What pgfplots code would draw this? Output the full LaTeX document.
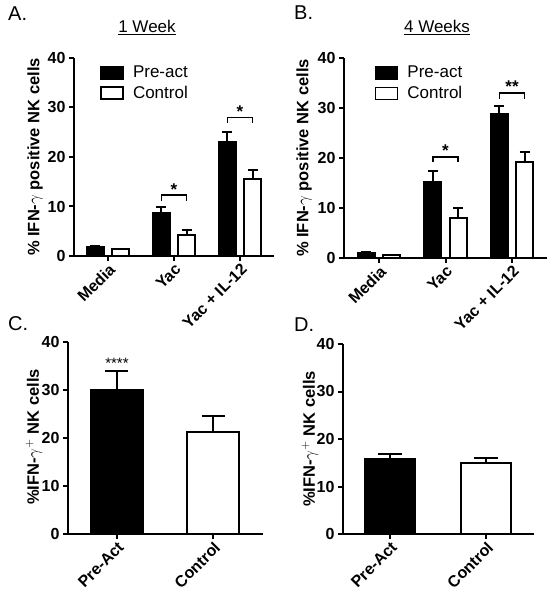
\documentclass[border=0pt]{standalone}
\usepackage{fontspec}
\setmainfont{Liberation Sans}
\usepackage{pgfplots}
\usepackage{pgfplotstable}
\pgfplotsset{compat=1.18}

\pgfplotstableread{
x y e
-0.19 1.8 0.15
0.81 8.7 1.1
1.81 23.0 2.1
}\Apre
\pgfplotstableread{
x y e
0.19 1.4 0.1
1.19 4.2 1.0
2.19 15.6 1.8
}\Actl
\pgfplotstableread{
x y e
-0.19 1.0 0.1
0.81 15.2 2.2
1.81 28.8 1.6
}\Bpre
\pgfplotstableread{
x y e
0.19 0.5 0.1
1.19 8.0 2.0
2.19 19.2 2.0
}\Bctl
\pgfplotstableread{
x y e
0 29.9 4.1
}\Cpre
\pgfplotstableread{
x y e
1 21.2 3.4
}\Cctl
\pgfplotstableread{
x y e
0 15.7 1.2
}\Dpre
\pgfplotstableread{
x y e
1 14.9 1.2
}\Dctl

\pgfplotsset{
  panel/.style={
    scale only axis, clip=false,
    axis lines=left,
    axis line style={-, line width=2pt},
    every tick/.style={black, line width=2pt},
    tick align=outside, major tick length=5pt,
    ymin=0, ymax=40, ytick={0,10,20,30,40},
    /pgf/number format/assume math mode=true,
    ticklabel style={font=\fontsize{16}{18}\selectfont\bfseries},
    xticklabel style={rotate=45, anchor=north east, inner sep=1pt},
    ylabel style={font=\fontsize{16.5}{19}\selectfont\bfseries, anchor=center},
    legend style={draw=none, fill=none, anchor=north west,
      font=\fontsize{17}{19}\selectfont, row sep=5pt, inner sep=0pt,
      nodes={inner sep=1pt}},
    legend cell align=left,
    legend image code/.code={\draw[#1, line width=1.6pt] (0pt,-6pt) rectangle (22pt,6pt); \path[draw=none,fill=none] (0pt,0pt) -- (31pt,0pt);},
  },
  bars/.style={ybar, bar shift=0pt, draw=black, line width=2pt,
    error bars/.cd, y dir=plus, y explicit,
    error bar style={line width=2pt, black},
    error mark options={rotate=90, line width=2pt, mark size=#1, black}},
}

\begin{document}
\begin{tikzpicture}
\path[use as bounding box] (0pt,0pt) rectangle (552pt,600pt);

% Panel A
\begin{axis}[panel, at={(74pt,344pt)}, anchor=south west, width=200pt, height=198pt,
  xmin=-0.515, xmax=2.515, xtick={0,1,2}, xticklabels={Media,Yac,Yac + IL-12},
  ylabel={\% IFN-$\gamma$ positive NK cells},
  ylabel style={at={(axis description cs:-0.195,0.5)}},
  legend style={at={(0.13,0.965)}}]
\addplot[fill=black, bar width=0.26, bars=5pt] table[x=x, y=y, y error=e] {\Apre};
\addlegendentry{Pre-act}
\addplot[fill=white, bar width=0.26, bars=5pt] table[x=x, y=y, y error=e] {\Actl};
\addlegendentry{Control}
\draw[line width=1.5pt] (axis cs:0.81,11.1) -- (axis cs:0.81,12.3) -- (axis cs:1.19,12.3) -- (axis cs:1.19,11.1);
\node[anchor=base, inner sep=0pt, font=\fontsize{17}{18}\selectfont\bfseries] at (axis cs:1,12.3) {*};
\draw[line width=1.5pt] (axis cs:1.81,26.9) -- (axis cs:1.81,28.0) -- (axis cs:2.19,28.0) -- (axis cs:2.19,26.9);
\node[anchor=base, inner sep=0pt, font=\fontsize{17}{18}\selectfont\bfseries] at (axis cs:2,28.0) {*};
\end{axis}

% Panel B
\begin{axis}[panel, at={(344pt,342pt)}, anchor=south west, width=203pt, height=200pt,
  xmin=-0.526, xmax=2.526, xtick={0,1,2}, xticklabels={Media,Yac,Yac + IL-12},
  ylabel={\% IFN-$\gamma$ positive NK cells},
  ylabel style={at={(axis description cs:-0.197,0.5)}},
  legend style={at={(0.15,0.965)}}]
\addplot[fill=black, bar width=0.256, bars=5pt] table[x=x, y=y, y error=e] {\Bpre};
\addlegendentry{Pre-act}
\addplot[fill=white, bar width=0.256, bars=5pt] table[x=x, y=y, y error=e] {\Bctl};
\addlegendentry{Control}
\draw[line width=1.5pt] (axis cs:0.81,19.2) -- (axis cs:0.81,20.2) -- (axis cs:1.19,20.2) -- (axis cs:1.19,19.2);
\node[anchor=base, inner sep=0pt, font=\fontsize{17}{18}\selectfont\bfseries] at (axis cs:1,20.2) {*};
\draw[line width=1.5pt] (axis cs:1.81,31.8) -- (axis cs:1.81,33.0) -- (axis cs:2.19,33.0) -- (axis cs:2.19,31.8);
\node[anchor=base, inner sep=0pt, font=\fontsize{17}{18}\selectfont\bfseries] at (axis cs:2,33.0) {**};
\end{axis}

% Panel C
\begin{axis}[panel, at={(68pt,66pt)}, anchor=south west, width=195pt, height=192pt,
  xmin=-0.51, xmax=1.52, xtick={0,1}, xticklabels={Pre-Act,Control},
  ylabel={\%IFN-$\gamma^{+}$ NK cells},
  ylabel style={at={(axis description cs:-0.174,0.505)}}]
\addplot[fill=black, bar width=0.54, bars=11.5pt] table[x=x, y=y, y error=e] {\Cpre};
\addplot[fill=white, bar width=0.54, bars=11.5pt] table[x=x, y=y, y error=e] {\Cctl};
\node[anchor=base, inner sep=0pt, font=\fontsize{15}{16}\selectfont] at (axis cs:0,34.4) {****};
\end{axis}

% Panel D
\begin{axis}[panel, at={(343pt,66pt)}, anchor=south west, width=191pt, height=190pt,
  xmin=-0.49, xmax=1.5, xtick={0,1}, xticklabels={Pre-Act,Control},
  ylabel={\%IFN-$\gamma^{+}$ NK cells},
  ylabel style={at={(axis description cs:-0.173,0.5)}}]
\addplot[fill=black, bar width=0.53, bars=12pt] table[x=x, y=y, y error=e] {\Dpre};
\addplot[fill=white, bar width=0.53, bars=12pt] table[x=x, y=y, y error=e] {\Dctl};
\end{axis}

% Panel letters and titles
\node[anchor=base west, inner sep=0pt, font=\fontsize{20}{22}\selectfont] at (8pt,579pt) {A.};
\node[anchor=base west, inner sep=0pt, font=\fontsize{20}{22}\selectfont] at (294pt,580pt) {B.};
\node[anchor=base west, inner sep=0pt, font=\fontsize{20}{22}\selectfont] at (8pt,269pt) {C.};
\node[anchor=base west, inner sep=0pt, font=\fontsize{20}{22}\selectfont] at (294pt,268pt) {D.};
\node[anchor=base, inner sep=0pt, font=\fontsize{17}{19}\selectfont] at (147pt,567pt) {\underline{1 Week}};
\node[anchor=base, inner sep=0pt, font=\fontsize{17}{19}\selectfont] at (437pt,567pt) {\underline{4 Weeks}};
\end{tikzpicture}
\end{document}
